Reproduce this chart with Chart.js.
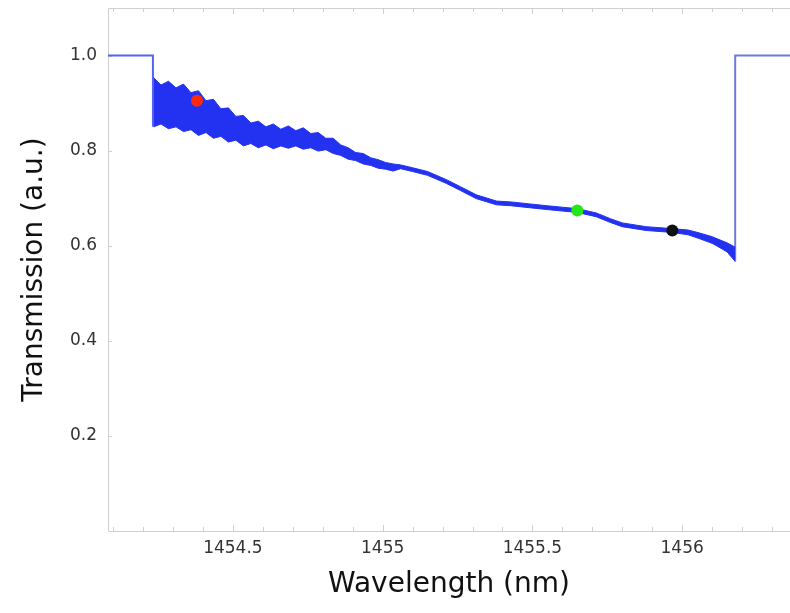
<!DOCTYPE html>
<html>
<head>
<meta charset="utf-8">
<script src="https://cdn.jsdelivr.net/npm/chart.js@4/dist/chart.umd.min.js"></script>
<style>
  body { margin: 0; background: #fff; }
  canvas { display: block; }
</style>
</head>
<body>
<canvas id="transChart" width="790" height="613"></canvas>
<script>
// wavelength (nm) of the band, with upper / lower edge of the trace
const bandWl = [
  1454.235, 1454.26, 1454.285, 1454.31, 1454.335, 1454.36, 1454.385, 1454.41, 1454.435, 1454.46,
  1454.485, 1454.51, 1454.535, 1454.56, 1454.585, 1454.61, 1454.635, 1454.66, 1454.685, 1454.71,
  1454.735, 1454.76, 1454.785, 1454.81, 1454.835, 1454.86, 1454.885, 1454.91, 1454.935, 1454.96,
  1454.985, 1455.01, 1455.035,
  1455.06, 1455.1, 1455.15, 1455.213, 1455.26, 1455.313, 1455.38, 1455.43, 1455.49, 1455.55,
  1455.65, 1455.713, 1455.76, 1455.8, 1455.88, 1455.967, 1456.02, 1456.057, 1456.1, 1456.123,
  1456.15, 1456.177
];
const bandUpper = [
  0.954, 0.938, 0.946, 0.932, 0.94, 0.922, 0.926, 0.905, 0.908, 0.888,
  0.89, 0.872, 0.874, 0.858, 0.862, 0.85, 0.856, 0.845, 0.852, 0.842,
  0.848, 0.836, 0.838, 0.826, 0.826, 0.812, 0.806, 0.796, 0.794, 0.785,
  0.781, 0.775, 0.772,
  0.770, 0.764, 0.756, 0.739, 0.724, 0.707, 0.694, 0.692, 0.688, 0.684,
  0.678, 0.669, 0.657, 0.648, 0.640, 0.636, 0.633, 0.627, 0.619, 0.613,
  0.606, 0.597
];
const bandLower = [
  0.85, 0.856, 0.846, 0.85, 0.84, 0.844, 0.832, 0.838, 0.826, 0.83,
  0.818, 0.822, 0.81, 0.815, 0.806, 0.812, 0.804, 0.81, 0.805, 0.81,
  0.803, 0.806, 0.799, 0.802, 0.794, 0.79, 0.782, 0.779, 0.772, 0.769,
  0.763, 0.761, 0.757,
  0.762, 0.756, 0.748, 0.731, 0.716, 0.699, 0.686, 0.684, 0.680, 0.676,
  0.670, 0.661, 0.649, 0.640, 0.632, 0.628, 0.623, 0.615, 0.605, 0.597,
  0.587, 0.567
];

// flat 1.0 regions outside the band
const leftWl = [1454.083, 1454.233, 1454.233];
const leftT = [1.0, 1.0, 0.85];
const rightWl = [1456.177, 1456.177, 1456.36];
const rightT = [0.567, 1.0, 1.0];

// coloured markers
const markWl = [1454.38, 1455.65, 1455.967];
const markT = [0.905, 0.674, 0.632];
const markColors = ['#ff2a0a', '#22e81a', '#111111'];

const xTicks = [1454.5, 1455, 1455.5, 1456];
const yTicks = [0.2, 0.4, 0.6, 0.8, 1.0];
const minorTicks = [1454.1, 1454.2, 1454.3, 1454.4, 1454.5, 1454.6, 1454.7, 1454.8, 1454.9, 1455.0,
  1455.1, 1455.2, 1455.3, 1455.4, 1455.5, 1455.6, 1455.7, 1455.8, 1455.9, 1456.0, 1456.1, 1456.2, 1456.3];

const BLUE = '#2232f0';

function pts(xs, ys) {
  return xs.map((x, i) => ({ x: x, y: ys[i] }));
}

// drop the extra room chart.js keeps for the edge labels
function noEdgePad(s) {
  s.paddingTop = 0; s.paddingBottom = 0; s.paddingLeft = 0; s.paddingRight = 0;
}

// light frame (top, left, bottom) with small inward ticks
const framePlugin = {
  id: 'frame',
  beforeDatasetsDraw(chart) {
    const { ctx, chartArea: a, scales } = chart;
    ctx.save();
    ctx.strokeStyle = '#cfcfcf';
    ctx.lineWidth = 1;
    ctx.beginPath();
    ctx.moveTo(a.right, a.top + 0.5);
    ctx.lineTo(a.left + 0.5, a.top + 0.5);
    ctx.lineTo(a.left + 0.5, a.bottom + 0.5);
    ctx.lineTo(a.right, a.bottom + 0.5);
    minorTicks.forEach(v => {
      const px = Math.round(scales.x.getPixelForValue(v)) + 0.5;
      const len = xTicks.includes(v) ? 6 : 4;
      ctx.moveTo(px, a.top); ctx.lineTo(px, a.top + len);
      ctx.moveTo(px, a.bottom); ctx.lineTo(px, a.bottom - len);
    });
    yTicks.forEach(v => {
      const py = Math.round(scales.y.getPixelForValue(v)) + 0.5;
      ctx.moveTo(a.left, py); ctx.lineTo(a.left + 4, py);
    });
    ctx.stroke();
    ctx.restore();
  }
};

const ctx = document.getElementById('transChart').getContext('2d');
new Chart(ctx, {
  type: 'scatter',
  data: {
    datasets: [
      {
        data: pts(markWl, markT),
        order: -1,
        showLine: false, pointRadius: 6, pointHoverRadius: 6,
        pointBackgroundColor: markColors, pointBorderColor: markColors, pointBorderWidth: 0
      },
      {
        data: pts(bandWl, bandLower),
        showLine: true, borderColor: BLUE, borderWidth: 1,
        pointRadius: 0, fill: false, tension: 0
      },
      {
        data: pts(bandWl, bandUpper),
        showLine: true, borderColor: BLUE, borderWidth: 1,
        backgroundColor: BLUE, pointRadius: 0, fill: '-1', tension: 0
      },
      {
        data: pts(leftWl, leftT),
        showLine: true, borderColor: '#5565f2', borderWidth: 2,
        pointRadius: 0, fill: false
      },
      {
        data: pts(rightWl, rightT),
        showLine: true, borderColor: '#6e7ae0', borderWidth: 2,
        pointRadius: 0, fill: false
      }
    ]
  },
  options: {
    responsive: false,
    animation: false,
    layout: { autoPadding: false, padding: { top: 8, right: 0, left: 0, bottom: 0 } },
    plugins: { legend: { display: false }, tooltip: { enabled: false } },
    scales: {
      x: {
        type: 'linear', min: 1454.083, max: 1456.36,
        grid: { display: false, drawTicks: false },
        border: { display: false },
        afterBuildTicks: s => { s.ticks = xTicks.map(v => ({ value: v })); },
        afterFit: s => { s.height = 82; noEdgePad(s); },
        ticks: {
          padding: 7, color: '#333', maxRotation: 0,
          font: { family: 'DejaVu Sans', size: 17 },
          callback: v => String(v)
        },
        title: {
          display: true, text: 'Wavelength (nm)', color: '#111',
          font: { family: 'DejaVu Sans', size: 28 },
          padding: { top: 0, bottom: 11 }
        }
      },
      y: {
        min: 0, max: 1.1,
        grid: { display: false, drawTicks: false },
        border: { display: false },
        afterBuildTicks: s => { s.ticks = yTicks.map(v => ({ value: v })); },
        afterFit: s => { s.width = 108; noEdgePad(s); },
        ticks: {
          padding: 11, color: '#333',
          font: { family: 'DejaVu Sans', size: 17 },
          callback: v => Number(v).toFixed(1)
        },
        title: {
          display: true, text: 'Transmission (a.u.)', color: '#111',
          font: { family: 'DejaVu Sans', size: 28 },
          padding: { top: 18, bottom: 0 }
        }
      }
    }
  },
  plugins: [framePlugin]
});
</script>
</body>
</html>
